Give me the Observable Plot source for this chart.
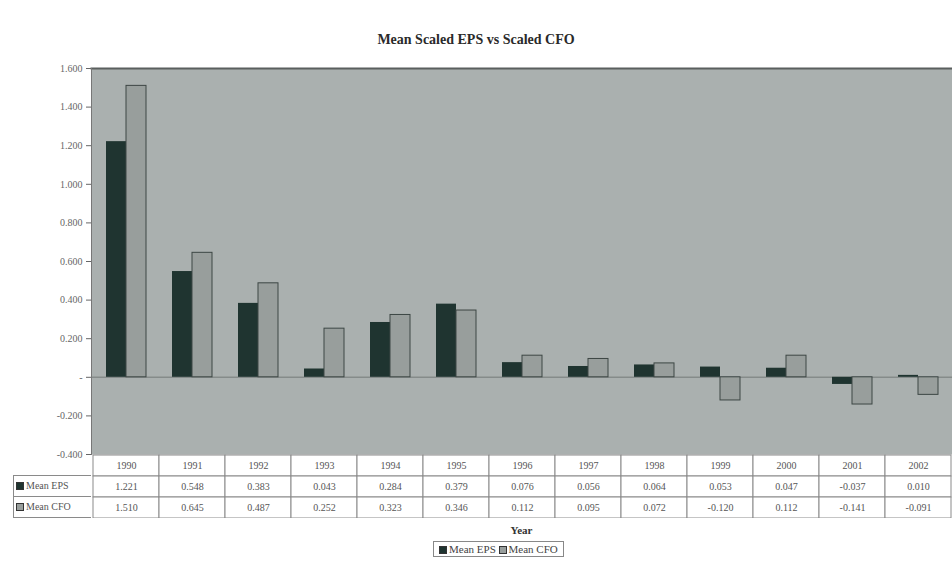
<!DOCTYPE html>
<html>
<head>
<meta charset="utf-8">
<script src="https://cdn.jsdelivr.net/npm/d3@7"></script>
<script src="https://cdn.jsdelivr.net/npm/@observablehq/plot@0.6"></script>
<style>
  html, body { margin: 0; padding: 0; background: #fff; }
  #wrap { position: relative; width: 952px; height: 570px; overflow: hidden; font-family: "Liberation Serif", "DejaVu Serif", serif; }
  #wrap > * { position: absolute; }
  #title { top: 32px; left: 0; width: 952px; text-align: center; font-weight: bold; font-size: 14px; color: #2a2a2a; }
  #rowlabels { left: 13px; top: 475px; width: 78px; }
  #rowlabels div { height: 20px; line-height: 20px; border: 1px solid #8a8a8a; border-right: none; border-bottom: none; font-size: 10px; color: #555; padding-left: 2px; white-space: nowrap; }
  #rowlabels div:last-child { border-bottom: 1px solid #8a8a8a; }
  .sw { display: inline-block; width: 8px; height: 8px; margin-right: 2px; vertical-align: -1px; }
  #xlabel { top: 524px; left: 91px; width: 861px; text-align: center; font-weight: bold; font-size: 11px; color: #333; }
  #legend { top: 541px; left: 433px; border: 1px solid #888; padding: 1px 5px; font-size: 11px; color: #444; white-space: nowrap; }
</style>
</head>
<body>
<div id="wrap">
  <div id="title"></div>
  <div id="chart" style="top:0;left:0"></div>
  <div id="table" style="top:454px;left:0"></div>
  <div id="rowlabels"></div>
  <div id="xlabel"></div>
  <div id="legend"></div>
</div>
<script>
// Mean scaled EPS and CFO by year
const title = "Mean Scaled EPS vs Scaled CFO";
const xTitle = "Year";
const years = ["1990","1991","1992","1993","1994","1995","1996","1997","1998","1999","2000","2001","2002"];
const seriesNames = ["Mean EPS", "Mean CFO"];
const meanEPS = [1.221, 0.548, 0.383, 0.043, 0.284, 0.379, 0.076, 0.056, 0.064, 0.053, 0.047, -0.037, 0.010];
const meanCFO = [1.510, 0.645, 0.487, 0.252, 0.323, 0.346, 0.112, 0.095, 0.072, -0.120, 0.112, -0.141, -0.091];
const yTicks = [-0.4, -0.2, 0, 0.2, 0.4, 0.6, 0.8, 1.0, 1.2, 1.4, 1.6];

const colors = {"Mean EPS": "#1f3430", "Mean CFO": "#989e9c"};
const fmt = d3.formatLocale({decimal: ".", thousands: ",", grouping: [3], currency: ["", ""], minus: "-"}).format(".3f");
const tickFmt = d => d === 0 ? "-" : fmt(d);

const rows = years.map((year, i) => ({year, eps: meanEPS[i], cfo: meanCFO[i]}));

document.getElementById("title").textContent = title;
document.getElementById("xlabel").textContent = xTitle;

const chart = Plot.plot({
  width: 952,
  height: 464,
  marginTop: 68,
  marginBottom: 10,
  marginLeft: 91,
  marginRight: 0,
  x: {domain: years, padding: 0, axis: null},
  y: {domain: [-0.4, 1.6]},
  style: {fontFamily: "Liberation Serif, serif", fontSize: "10px", color: "#666", background: "transparent"},
  marks: [
    Plot.frame({fill: "#aab0af"}),
    Plot.ruleY([0], {stroke: "#858b8a", strokeWidth: 1.5}),
    Plot.barY(rows, {x: "year", y: "eps", fill: colors["Mean EPS"], insetLeft: 13, insetRight: 33}),
    Plot.barY(rows, {x: "year", y: "cfo", fill: colors["Mean CFO"], stroke: "#3c4644", strokeWidth: 1, insetLeft: 33, insetRight: 13}),
    Plot.frame({anchor: "top", stroke: "#5a5f5e", strokeWidth: 2}),
    Plot.frame({anchor: "left", stroke: "#777"}),
    Plot.axisY({ticks: yTicks, tickFormat: tickFmt, tickSize: 5, tickPadding: 4, label: null})
  ]
});
document.getElementById("chart").append(chart);

// data table aligned with the year bands
const rowKeys = ["year", ...seriesNames];
const cells = [];
years.forEach((year, i) => {
  cells.push({year, row: "year", label: year});
  cells.push({year, row: "Mean EPS", label: fmt(meanEPS[i])});
  cells.push({year, row: "Mean CFO", label: fmt(meanCFO[i])});
});

const table = Plot.plot({
  width: 952,
  height: 64,
  marginTop: 1,
  marginBottom: 0,
  marginLeft: 91,
  marginRight: 0,
  x: {domain: years, padding: 0, axis: null},
  y: {domain: rowKeys, padding: 0, axis: null},
  style: {fontFamily: "Liberation Serif, serif", background: "transparent"},
  marks: [
    Plot.cell(cells, {x: "year", y: "row", fill: "#fff", stroke: "#8a8a8a"}),
    Plot.text(cells, {x: "year", y: "row", text: "label", fill: "#555", fontSize: 10})
  ]
});
document.getElementById("table").append(table);

const rl = document.getElementById("rowlabels");
const lg = document.getElementById("legend");
seriesNames.forEach((name, i) => {
  const d = document.createElement("div");
  d.innerHTML = `<span class="sw" style="background:${colors[name]};border:1px solid #333;box-sizing:border-box"></span>${name}`;
  rl.append(d);
  const s = document.createElement("span");
  s.innerHTML = `<span class="sw" style="background:${colors[name]};border:1px solid #333;box-sizing:border-box"></span>${name}` + (i === 0 ? " " : "");
  lg.append(s);
});
</script>
</body>
</html>
